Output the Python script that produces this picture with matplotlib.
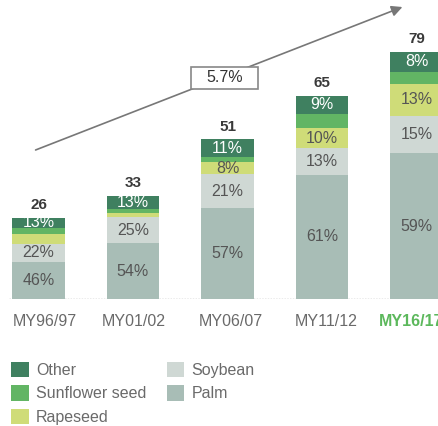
import matplotlib
matplotlib.use("Agg")
import matplotlib.pyplot as plt
from matplotlib.patches import Rectangle, FancyArrowPatch

plt.rcParams['font.family'] = ['Liberation Sans', 'DejaVu Sans']

categories = ["MY96/97", "MY01/02", "MY06/07", "MY11/12", "MY16/17"]
totals = [26, 33, 51, 65, 79]
palm = [46, 54, 57, 61, 59]
soybean = [22, 25, 21, 13, 15]
rapeseed = [12, 4, 8, 10, 13]
sunflower = [7, 4, 3, 7, 5]
other = [13, 13, 11, 9, 8]
palm_labels = ["46%", "54%", "57%", "61%", "59%"]
soybean_labels = ["22%", "25%", "21%", "13%", "15%"]
rapeseed_labels = ["", "", "8%", "10%", "13%"]
sunflower_labels = ["", "", "", "", ""]
other_labels = ["13%", "13%", "11%", "9%", "8%"]
cagr_label = "5.7%"

series = [
    ("Palm", palm, palm_labels, "#a8bdb6", "#555555"),
    ("Soybean", soybean, soybean_labels, "#cfd8d4", "#555555"),
    ("Rapeseed", rapeseed, rapeseed_labels, "#cfdc78", "#555555"),
    ("Sunflower seed", sunflower, sunflower_labels, "#62b564", "#555555"),
    ("Other", other, other_labels, "#3f8060", "white"),
]

FS = 11.5
W, H = 439, 426
fig = plt.figure(figsize=(W / 100, H / 100), dpi=100)
base_px = 299
ax = fig.add_axes([0, (H - base_px) / H, 1, base_px / H])
ax.set_xlim(-38.5 / 94.5, (W - 38.5) / 94.5)
ax.set_ylim(0, base_px / 3.13)
ax.axis('off')

x = list(range(len(categories)))
bottoms = [0.0] * len(categories)
handles = {}
for name, vals, labels, color, tcolor in series:
    heights = [t * v / 100 for t, v in zip(totals, vals)]
    bars = ax.bar(x, heights, width=0.56, bottom=bottoms, color=color,
                  edgecolor='none', zorder=2)
    handles[name] = bars
    for xi, b, h, lab in zip(x, bottoms, heights, labels):
        if lab:
            ax.text(xi, b + h / 2, lab, ha='center', va='center',
                    fontsize=FS, color=tcolor, zorder=3)
    bottoms = [b + h for b, h in zip(bottoms, heights)]

for xi, t in zip(x, totals):
    ax.text(xi, t + 1.8, str(t), ha='center', va='bottom', fontsize=FS - 0.5,
            fontweight='bold', color='#3a3a3a')

ax.axhline(0, xmin=0.02, xmax=1, color='#999999', lw=1, ls=(0, (1, 1)), zorder=1)

label_shift = [0.066, 0.013, 0.03, 0.04, -0.06]
for xi, c, dx in zip(x, categories, label_shift):
    last = xi == len(categories) - 1
    ax.text(xi + dx, -7.3, c, ha='center', va='center', fontsize=FS,
            color='#5cb85c' if last else '#6a6a6a',
            fontweight='bold' if last else 'normal', clip_on=False)

# CAGR arrow
arr = FancyArrowPatch((33, H - 151), (405, H - 6), transform=None,
                      arrowstyle='-|>', mutation_scale=16, color='#777777',
                      lw=1.2, zorder=5)
fig.add_artist(arr)
rect = Rectangle((191 / W, (H - 89) / H), 67 / W, 22 / H, transform=fig.transFigure,
                 facecolor='white', edgecolor='#888888', lw=1.2, zorder=6)
fig.add_artist(rect)
fig.text(224.5 / W, (H - 78) / H, cagr_label, ha='center', va='center',
         fontsize=FS, color='#333333', zorder=7)

order = ["Other", "Sunflower seed", "Rapeseed", "Soybean", "Palm"]
leg = fig.legend([handles[n] for n in order], order, ncol=2,
                 loc='upper left', bbox_to_anchor=(11 / W, (H - 362) / H),
                 frameon=False, fontsize=FS, handlelength=1.1, handleheight=1.1,
                 handletextpad=0.45, labelspacing=0.45, columnspacing=1.3,
                 borderpad=0.0, borderaxespad=0.0)
for t in leg.get_texts():
    t.set_color('#6a6a6a')

fig.savefig("out.png", dpi=100)
